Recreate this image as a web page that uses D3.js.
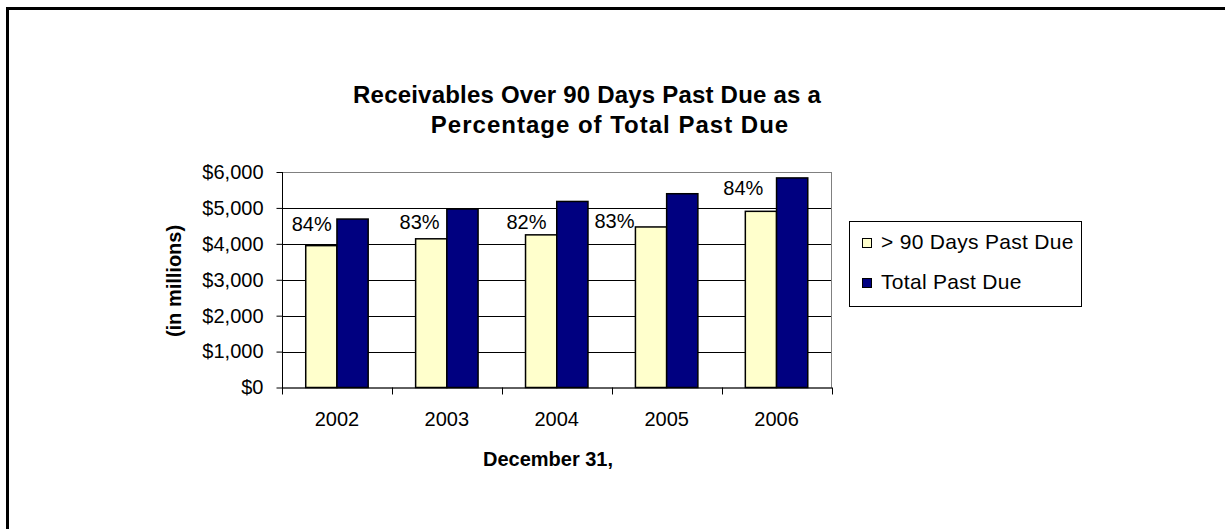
<!DOCTYPE html>
<html>
<head>
<meta charset="utf-8">
<script src="https://cdn.jsdelivr.net/npm/d3@7"></script>
<style>
  html, body { margin: 0; padding: 0; background: #fff; }
  svg { display: block; font-family: "Liberation Sans", Arial, sans-serif; }
</style>
</head>
<body>
<svg id="chart" width="1225" height="529"></svg>
<script>
// Year-end receivables past due, in millions of dollars
const years = ["2002", "2003", "2004", "2005", "2006"];
const over90Days = [3950, 4140, 4250, 4470, 4905];
const totalPastDue = [4690, 4970, 5180, 5395, 5835];
const seriesNames = ["> 90 Days Past Due", "Total Past Due"];
const yTickValues = [0, 1000, 2000, 3000, 4000, 5000, 6000];

// Placement of each percentage label relative to the top-left corner of its yellow bar
const labelNudge = [[26, -15], [24, -10], [21, -6], [-1, 1], [18, -16]];

const colors = ["#FFFFCC", "#000080"];

const svg = d3.select("#chart");

// Outer frame (runs off the right and bottom of the page)
svg.append("rect")
  .attr("x", 7.5).attr("y", 8.5)
  .attr("width", 1400).attr("height", 700)
  .attr("fill", "none").attr("stroke", "#000").attr("stroke-width", 3);

const plot = { left: 282, right: 831.5, top: 172, bottom: 387.5 };

const x = d3.scaleBand().domain(years).range([plot.left, plot.right]).paddingInner(0).paddingOuter(0);
const x1 = d3.scaleBand().domain(seriesNames).range([0, x.bandwidth()]).paddingInner(0).paddingOuter(0.76);
const y = d3.scaleLinear().domain([0, 6000]).range([plot.bottom, plot.top]);

// Gridlines
svg.append("g")
  .selectAll("line")
  .data(yTickValues.filter(v => v > 0))
  .join("line")
  .attr("x1", plot.left).attr("x2", plot.right)
  .attr("y1", d => Math.round(y(d)) + 0.5).attr("y2", d => Math.round(y(d)) + 0.5)
  .attr("stroke", "#000").attr("stroke-width", 1);

// Plot area border
svg.append("rect")
  .attr("x", plot.left + 0.5).attr("y", plot.top + 0.5)
  .attr("width", plot.right - plot.left - 0.5).attr("height", plot.bottom - plot.top)
  .attr("fill", "none").attr("stroke", "#808080").attr("stroke-width", 1);

// Bars
const rows = years.map((yr, i) => ({ year: yr, values: [over90Days[i], totalPastDue[i]] }));
const groups = svg.append("g").selectAll("g")
  .data(rows).join("g")
  .attr("transform", d => `translate(${x(d.year)},0)`);

groups.selectAll("rect")
  .data(d => d.values.map((v, k) => ({ key: seriesNames[k], value: v, k })))
  .join("rect")
  .attr("x", d => x1(d.key))
  .attr("y", d => y(d.value))
  .attr("width", x1.bandwidth())
  .attr("height", d => y(0) - y(d.value))
  .attr("fill", d => colors[d.k])
  .attr("stroke", "#000").attr("stroke-width", 1.5);

// Percentage labels: share of total past due that is over 90 days
groups.append("text")
  .attr("x", (d, i) => x1(seriesNames[0]) + labelNudge[i][0])
  .attr("y", (d, i) => y(d.values[0]) + labelNudge[i][1])
  .attr("text-anchor", "end")
  .attr("font-size", 20)
  .attr("fill", "#000")
  .text(d => Math.round(d.values[0] / d.values[1] * 100) + "%");

// Y axis
const yAxis = d3.axisLeft(y)
  .tickValues(yTickValues)
  .tickSize(6)
  .tickPadding(13)
  .tickFormat(d => "$" + d3.format(",")(d));
const gy = svg.append("g").attr("transform", `translate(${plot.left + 0.5},0)`).call(yAxis);
gy.select(".domain").attr("stroke", "#000").attr("d", `M0,${plot.top}V${plot.bottom + 0.5}`);
gy.selectAll(".tick line").attr("stroke", "#000");
gy.selectAll(".tick text").attr("font-size", 20).attr("font-family", "Liberation Sans, Arial, sans-serif").attr("fill", "#000");

// X axis with category boundary ticks
const gx = svg.append("g").attr("transform", `translate(0,${plot.bottom})`);
gx.append("line")
  .attr("x1", plot.left).attr("x2", plot.right + 0.5)
  .attr("y1", 0.5).attr("y2", 0.5)
  .attr("stroke", "#000");
gx.selectAll("line.tick")
  .data(years.map(yr => x(yr)).concat([plot.right]))
  .join("line")
  .attr("class", "tick")
  .attr("x1", d => Math.round(d) + 0.5).attr("x2", d => Math.round(d) + 0.5)
  .attr("y1", 0).attr("y2", 7)
  .attr("stroke", "#000");
gx.selectAll("text")
  .data(years)
  .join("text")
  .attr("x", d => x(d) + x.bandwidth() / 2)
  .attr("y", 38)
  .attr("text-anchor", "middle")
  .attr("font-size", 20)
  .text(d => d);

// Axis titles
svg.append("text")
  .attr("transform", "translate(181,281) rotate(-90)")
  .attr("text-anchor", "middle")
  .attr("font-size", 20).attr("font-weight", "bold")
  .text("(in millions)");

svg.append("text")
  .attr("x", 548).attr("y", 466)
  .attr("text-anchor", "middle")
  .attr("font-size", 20).attr("font-weight", "bold")
  .text("December 31,");

// Title
const title = svg.append("text")
  .attr("text-anchor", "middle")
  .attr("font-size", 24).attr("font-weight", "bold");
title.append("tspan").attr("x", 587).attr("y", 103).attr("letter-spacing", 0.2).text("Receivables Over 90 Days Past Due as a");
title.append("tspan").attr("x", 610).attr("y", 133).attr("letter-spacing", 1).text("Percentage of Total Past Due");

// Legend
const legend = svg.append("g");
legend.append("rect")
  .attr("x", 849.5).attr("y", 221.5)
  .attr("width", 232).attr("height", 85)
  .attr("fill", "#fff").attr("stroke", "#000").attr("stroke-width", 1);
const items = legend.selectAll("g.item")
  .data(seriesNames).join("g")
  .attr("class", "item")
  .attr("transform", (d, i) => `translate(862,${243 + i * 40})`);
items.append("rect")
  .attr("x", 0.5).attr("y", -4.5)
  .attr("width", 9).attr("height", 9)
  .attr("fill", (d, i) => colors[i])
  .attr("stroke", "#000").attr("stroke-width", 1);
items.append("text")
  .attr("x", 19).attr("y", 6)
  .attr("font-size", 21)
  .attr("letter-spacing", 0.3)
  .text(d => d);
</script>
</body>
</html>
